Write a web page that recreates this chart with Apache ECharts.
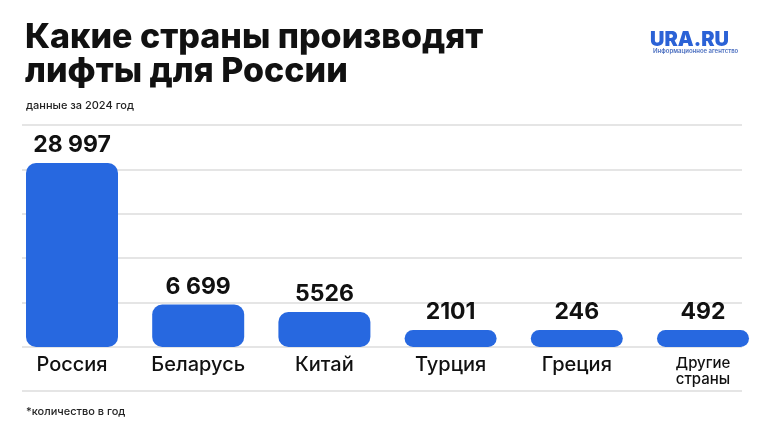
<!DOCTYPE html>
<html><head><meta charset="utf-8">
<script src="https://cdn.jsdelivr.net/npm/echarts@6/dist/echarts.min.js"></script>
<style>html,body{margin:0;padding:0;background:#fff}#c{width:760px;height:427px}</style>
</head><body><div id="c"></div>
<script>
const categories = ['Россия', 'Беларусь', 'Китай', 'Турция', 'Греция', 'Другие\nстраны'];
const values = [28997, 6699, 5526, 2101, 246, 492];
const valueLabels = ['28 997', '6 699', '5526', '2101', '246', '492'];
const titleText = 'Какие страны производят\nлифты для России';
const subtitleText = 'данные за 2024 год';
const footnoteText = '*количество в год';

const FONT = 'Inter, "Noto Sans", sans-serif';
const BLUE = '#2768E0';
const chart = echarts.init(document.getElementById('c'), null, {renderer: 'canvas'});
const hidden = {axisLabel: {show: false}, axisLine: {show: false}, axisTick: {show: false}};
chart.setOption({
  backgroundColor: '#fff',
  animation: false,
  textStyle: {fontFamily: FONT},
  title: [
    {text: titleText, left: 20, top: 16,
     textStyle: {fontFamily: FONT, fontSize: 34, fontWeight: 800, color: '#111', lineHeight: 34}},
    {text: subtitleText, left: 21, top: 95,
     textStyle: {fontFamily: FONT, fontSize: 11, fontWeight: 500, color: '#222'}},
    {text: footnoteText, left: 21, top: 401,
     textStyle: {fontFamily: FONT, fontSize: 11, fontWeight: 500, color: '#222'}},
    {text: 'URA.RU', left: 645, top: 25,
     textStyle: {fontFamily: FONT, fontSize: 20, fontWeight: 900, color: '#2B62D6'}},
    {text: 'Информационное агентство', left: 648, top: 43,
     textStyle: {fontFamily: FONT, fontSize: 6, fontWeight: 600, color: '#4B6FC0'}}
  ],
  grid: [
    {left: 22, right: 18, top: 125, bottom: 36},
    {left: 72, right: 57, top: 125, bottom: 80}
  ],
  xAxis: [
    {gridIndex: 0, type: 'category', data: categories, show: false},
    {gridIndex: 1, type: 'category', data: categories, boundaryGap: false,
     axisLine: {show: false}, axisTick: {show: false},
     axisLabel: {margin: 8, fontFamily: FONT, fontSize: 20, fontWeight: 500, color: '#111',
       interval: 0,
       formatter: v => v.indexOf('\n') >= 0 ? '{s|' + v.replace('\n', '}\n{s|') + '}' : v,
       rich: {s: {fontFamily: FONT, fontSize: 15, fontWeight: 500, color: '#111', lineHeight: 16}}}}
  ],
  yAxis: [
    Object.assign({gridIndex: 0, type: 'value', min: -7000, max: 35000, interval: 7000,
      splitLine: {lineStyle: {color: '#dcdcdc', width: 1.5}}}, hidden),
    Object.assign({gridIndex: 1, type: 'value', min: 0, max: 35000, interval: 7000,
      splitLine: {show: false}}, hidden)
  ],
  series: [{
    type: 'bar', xAxisIndex: 1, yAxisIndex: 1,
    data: values, barWidth: 92, barMinHeight: 17,
    itemStyle: {color: BLUE, borderRadius: 10},
    label: {show: true, position: 'top', distance: 6,
      formatter: p => valueLabels[p.dataIndex],
      fontFamily: FONT, fontSize: 23, fontWeight: 700, color: '#111'}
  }]
});
</script></body></html>
